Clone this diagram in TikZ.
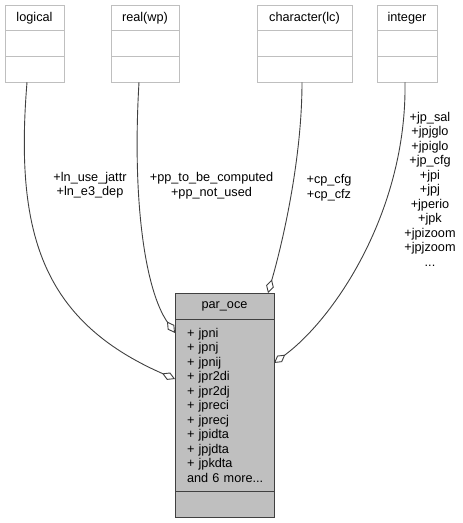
\documentclass[tikz,border=0pt]{standalone}
\usepackage{fontspec}
\setmainfont{Liberation Sans}
\usepackage{xcolor}
\usetikzlibrary{positioning,arrows.meta}

\definecolor{typeedge}{RGB}{191,191,191}
\definecolor{classedge}{RGB}{64,64,64}
\definecolor{classfill}{RGB}{191,191,191}

\begin{document}
\begin{tikzpicture}[x=1pt, y=-1pt, >={Diamond[fill=white,length=14pt,width=8pt]},
    every node/.style={font=\fontsize{12.7}{14.5}\selectfont, outer sep=0pt, inner sep=0pt, align=center},
    typebox/.style={draw=typeedge, fill=white, line width=1pt, minimum height=25.7pt},
    classbox/.style={draw=classedge, fill=classfill, line width=1pt, minimum width=99pt, minimum height=26pt},
    link/.style={draw=classedge, line width=0.9pt, ->}]
    \useasboundingbox (0,0) rectangle (463,523);

    % member types
    \node[typebox, minimum width=59pt] (logical) at (34.5,18) {logical};
    \node[typebox, minimum width=68pt, right=47pt of logical] (realwp) {real(wp)};
    \node[typebox, minimum width=95pt, right=78pt of realwp] (character) {character(lc)};
    \node[typebox, minimum width=60pt, right=25pt of character] (integer) {integer};
    \foreach \t/\w in {logical/59, realwp/68, character/95, integer/60} {
        \node[typebox, minimum width=\w pt, below=0pt of \t] (\t-a) {};
        \node[typebox, minimum width=\w pt, below=0pt of \t-a] (\t-m) {};
    }

    % the structure
    \node[classbox] (paroce) at (224.5,306) {par\_oce};
    \node[classbox, below=0pt of paroce, minimum height=172pt, text width=75pt, inner xsep=12pt, align=left] (paroce-a)
        {+ jpni\\+ jpnj\\+ jpnij\\+ jpr2di\\+ jpr2dj\\+ jpreci\\+ jprecj\\+ jpidta\\+ jpjdta\\+ jpkdta\\\mbox{and 6 more...}};
    \node[classbox, below=0pt of paroce-a] (paroce-m) {};

    % member names
    \node (lnlabel) at (90,185) {+ln\_use\_jattr\\+ln\_e3\_dep};
    \node (pplabel) at (211.5,185.5) {+pp\_to\_be\_computed\\+pp\_not\_used};
    \node (cplabel) at (329,187.5) {+cp\_cfg\\+cp\_cfz};
    \node (jplabel) at (430,189) {+jp\_sal\\+jpjglo\\+jpiglo\\+jp\_cfg\\+jpi\\+jpj\\+jperio\\+jpk\\+jpizoom\\+jpjzoom\\...};

    \draw[link] ([xshift=-7.5pt]logical-m.south) .. controls +(-12,148) and +(-135,-59) .. ([yshift=-60pt]paroce-a.north west);
    \draw[link] ([xshift=-6pt]realwp-m.south) .. controls +(-7,118) and +(-30,-43) .. ([yshift=-14pt]paroce-a.north west);
    \draw[link] ([xshift=-2.5pt]character-m.south) .. controls +(0,78) and +(14,-48) .. ([xshift=43.5pt]paroce.north);
    \draw[link] ([xshift=-2pt]integer-m.south) .. controls +(2,128) and +(61,-45) .. ([yshift=-44pt]paroce-a.north east);
\end{tikzpicture}
\end{document}
